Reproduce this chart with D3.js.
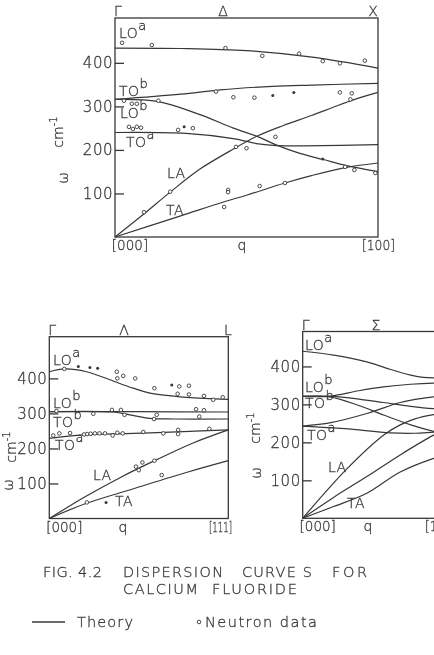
<!DOCTYPE html>
<html>
<head>
<meta charset="utf-8">
<script src="https://cdn.jsdelivr.net/npm/d3@7"></script>
<style>
  body { margin: 0; background: #fff; }
  svg { will-change: transform; }
  svg text { font-family: "DejaVu Sans", sans-serif; font-weight: 200; fill: #383838; stroke: #383838; stroke-width: 0.3; }
</style>
</head>
<body>
<script>
const width = 434;
const height = 655;
const ink = '#383838';

// Δ direction, [000] -> [100]  (q fraction, ω in cm-1)
const deltaLOa = [[0, 434], [0.25, 433], [0.5, 428], [0.75, 413], [1, 388]];
const deltaTOb = [[0, 316], [0.25, 328], [0.4, 338], [0.6, 346], [0.75, 349], [1, 353]];
const deltaLOb = [[0, 316], [0.165, 311], [0.323, 281], [0.45, 250], [0.545, 230], [0.615, 211], [0.703, 192], [0.792, 178], [0.881, 164], [1, 150]];
const deltaTOa = [[0, 240], [0.27, 238], [0.45, 226], [0.545, 214], [0.615, 210], [1, 212]];
const deltaLA = [[0, 0], [0.112, 54], [0.21, 103], [0.323, 156], [0.45, 202], [0.545, 233], [0.64, 256], [0.747, 279], [0.83, 298], [0.906, 315], [1, 332]];
const deltaTA = [[0, 0], [0.247, 48], [0.415, 81], [0.5, 96], [0.646, 124], [0.747, 141], [0.881, 160], [1, 170]];
const deltaOpen = [
  [0.027, 446], [0.14, 441], [0.42, 434], [0.56, 416], [0.7, 421], [0.79, 404], [0.855, 399], [0.95, 405],
  [0.034, 313], [0.165, 313], [0.384, 334], [0.45, 321], [0.53, 320], [0.855, 332], [0.9, 330], [0.895, 316],
  [0.064, 306], [0.083, 306],
  [0.053, 253], [0.068, 248], [0.083, 253], [0.099, 251], [0.24, 246], [0.296, 250],
  [0.61, 230], [0.46, 207], [0.5, 204],
  [0.875, 161], [0.91, 154], [0.99, 147],
  [0.11, 57], [0.21, 104],
  [0.43, 108], [0.43, 103], [0.415, 69], [0.55, 117], [0.646, 124]
];
const deltaFilled = [[0.6, 325], [0.68, 332], [0.79, 179], [0.263, 253]];

// Λ direction, [000] -> [111]
const lambdaLOa = [[0, 419], [0.087, 427], [0.208, 419], [0.338, 396], [0.469, 372], [0.562, 358], [0.766, 346], [1, 340]];
const lambdaLOb = [[0, 305], [0.5, 305], [1, 304]];
const lambdaTOb = [[0, 305], [0.357, 304], [0.45, 296], [0.562, 286], [0.7, 284], [1, 284]];
const lambdaTOa = [[0, 229], [0.19, 239], [0.47, 243], [0.75, 248], [1, 253]];
const lambdaLA = [[0, 0], [0.2, 62], [0.4, 118], [0.6, 168], [0.8, 215], [1, 253]];
const lambdaTA = [[0, 0], [0.2, 42], [0.47, 85], [0.77, 132], [1, 165]];
const lambdaOpen = [
  [0.084, 427], [0.377, 419], [0.38, 400], [0.413, 407], [0.48, 400], [0.587, 372], [0.726, 377], [0.78, 379],
  [0.717, 356], [0.78, 354], [0.864, 350], [0.916, 339], [0.969, 346],
  [0.04, 307], [0.246, 299], [0.35, 310], [0.4, 310], [0.42, 296], [0.585, 284], [0.6, 296], [0.82, 312], [0.864, 309], [0.838, 291],
  [0.022, 237], [0.056, 243], [0.116, 244], [0.194, 240], [0.212, 241], [0.231, 242], [0.255, 243], [0.28, 243], [0.311, 243],
  [0.354, 237], [0.38, 245], [0.41, 243], [0.525, 247], [0.637, 243], [0.72, 253], [0.72, 241], [0.894, 256],
  [0.484, 148], [0.5, 138], [0.52, 160], [0.587, 165], [0.628, 124],
  [0.21, 46]
];
const lambdaFilled = [[0.162, 434], [0.227, 431], [0.27, 429], [0.684, 381], [0.317, 46]];

// Σ direction, [000] -> [110] (theory only)
const sigmaLOa = [[0, 440], [0.22, 430], [0.457, 412], [0.6, 395], [0.77, 377], [0.86, 371], [1, 370]];
const sigmaLOb = [[0, 321], [0.2, 322], [0.4, 336], [0.576, 346], [0.77, 353], [0.933, 356], [1, 356]];
const sigmaTOb = [[0, 321], [0.2, 321], [0.4, 314], [0.576, 305], [0.77, 295], [0.933, 289], [1, 288]];
const sigmaTOb2 = [[0, 321], [0.2, 319], [0.4, 297], [0.576, 272], [0.77, 246], [0.933, 229], [1, 224]];
const sigmaTOa = [[0, 243], [0.2, 252], [0.457, 276], [0.695, 305], [0.85, 316], [0.933, 320], [1, 322]];
const sigmaTOa2 = [[0, 243], [0.3, 236], [0.626, 225], [0.8, 224], [0.933, 227], [1, 228]];
const sigmaLA = [[0, 0], [0.32, 132], [0.58, 220], [0.695, 246], [0.8, 262], [0.933, 273], [1, 276]];
const sigmaLA2 = [[0, 0], [0.22, 55], [0.457, 110], [0.695, 167], [0.933, 219], [1, 230]];
const sigmaTA = [[0, 0], [0.22, 31], [0.457, 66], [0.695, 122], [0.933, 158], [1, 165]];

const yTicks = [100, 200, 300, 400];

const svg = d3.select('body').append('svg').attr('width', width).attr('height', height);

function drawPanel(p) {
  const x = d3.scaleLinear().domain([0, 1]).range([p.x0, p.x1]);
  const y = d3.scaleLinear().domain([0, p.yMax]).range([p.y1, p.y0]);
  const g = svg.append('g');

  g.append('rect')
    .attr('x', p.x0).attr('y', p.y0)
    .attr('width', p.x1 - p.x0).attr('height', p.y1 - p.y0)
    .attr('fill', 'none').attr('stroke', ink).attr('stroke-width', 1.3);

  const axis = g.append('g')
    .attr('transform', `translate(${p.x0},0)`)
    .call(d3.axisLeft(y).tickValues(yTicks).tickSizeInner(-9).tickSizeOuter(0).tickPadding(2).tickFormat(d3.format('d')));
  axis.select('.domain').remove();
  axis.selectAll('line').attr('stroke', ink).attr('stroke-width', 1.3);
  axis.selectAll('text').attr('font-size', 15).attr('letter-spacing', 0.5).attr('fill', ink);

  const line = d3.line().x(d => x(d[0])).y(d => y(d[1])).curve(d3.curveCatmullRom.alpha(0.5));
  g.selectAll('path.curve')
    .data(p.curves)
    .enter()
    .append('path')
    .attr('class', 'curve')
    .attr('d', line)
    .attr('fill', 'none')
    .attr('stroke', ink)
    .attr('stroke-width', 1.2);

  g.selectAll('circle.open')
    .data(p.open || [])
    .enter()
    .append('circle')
    .attr('class', 'open')
    .attr('cx', d => x(d[0])).attr('cy', d => y(d[1]))
    .attr('r', 1.8)
    .attr('fill', '#fff').attr('stroke', ink).attr('stroke-width', 0.9);

  g.selectAll('circle.filled')
    .data(p.filled || [])
    .enter()
    .append('circle')
    .attr('class', 'filled')
    .attr('cx', d => x(d[0])).attr('cy', d => y(d[1]))
    .attr('r', 1.5)
    .attr('fill', ink);

  // symmetry points along the top
  g.append('text').attr('x', p.x0 - 1).attr('y', p.y0 - 2).attr('font-size', 14).text('Γ');
  g.append('text').attr('x', p.midX).attr('y', p.y0 - 2).attr('font-size', 14).attr('text-anchor', 'middle').text(p.mid);
  g.append('text').attr('x', p.endX).attr('y', p.y0 - 2).attr('font-size', 14).attr('text-anchor', 'middle').text(p.end);

  // q axis
  g.append('text').attr('x', p.x0 + 15).attr('y', p.y1 + 13).attr('font-size', 13.5).attr('text-anchor', 'middle').text('[000]');
  g.append('text').attr('x', p.qX).attr('y', p.y1 + 13).attr('font-size', 14).attr('text-anchor', 'middle').text('q');
  g.append('text').attr('x', p.zbX).attr('y', p.y1 + 13).attr('font-size', 13.5).attr('textLength', p.zbLen).attr('lengthAdjust', 'spacingAndGlyphs').text(p.zb);

  // ω (cm-1) label
  const cm = g.append('text')
    .attr('transform', `translate(${p.cmX},${p.cmY}) rotate(-90)`)
    .attr('font-size', 14).attr('text-anchor', 'middle');
  cm.append('tspan').text('cm');
  cm.append('tspan').attr('dy', -6).attr('font-size', 10).text('-1');
  g.append('text')
    .attr('transform', `translate(${p.wX},${p.wY}) rotate(-90)`)
    .attr('font-size', 14).attr('text-anchor', 'middle').text('ω');

  // branch labels
  p.labels.forEach(l => {
    const t = g.append('text').attr('x', l[1]).attr('y', l[2]).attr('font-size', 14).attr('letter-spacing', 0.5);
    t.append('tspan').text(l[0]);
    if (l[3]) t.append('tspan').attr('dy', -8).attr('font-size', 13).text(l[3]);
  });
}

drawPanel({
  x0: 115, x1: 378, y0: 18, y1: 237, yMax: 503,
  curves: [deltaLOa, deltaTOb, deltaLOb, deltaTOa, deltaLA, deltaTA],
  open: deltaOpen, filled: deltaFilled,
  mid: 'Δ', midX: 223, end: 'X', endX: 373,
  qX: 242, zb: '[100]', zbX: 362, zbLen: 33,
  cmX: 63, cmY: 132, wX: 68, wY: 178,
  labels: [['LO', 119, 38, 'a'], ['TO', 119, 96, 'b'], ['LO', 120, 118, 'b'], ['TO', 126, 147, 'a'], ['LA', 167, 178], ['TA', 166, 215]]
});

drawPanel({
  x0: 49.3, x1: 228.3, y0: 336.7, y1: 518.5, yMax: 519,
  curves: [lambdaLOa, lambdaLOb, lambdaTOb, lambdaTOa, lambdaLA, lambdaTA],
  open: lambdaOpen, filled: lambdaFilled,
  mid: 'Λ', midX: 124, end: 'L', endX: 228,
  qX: 123, zb: '[111]', zbX: 209, zbLen: 23,
  cmX: 15.5, cmY: 447, wX: 13, wY: 485,
  labels: [['LO', 53, 365, 'a'], ['LO', 53, 408, 'b'], ['TO', 53, 427, 'b'], ['TO', 55, 450, 'a'], ['LA', 93, 480], ['TA', 115, 506]]
});

drawPanel({
  x0: 302.7, x1: 443, y0: 331.5, y1: 518.3, yMax: 492,
  curves: [sigmaLOa, sigmaLOb, sigmaTOb, sigmaTOb2, sigmaTOa, sigmaTOa2, sigmaLA, sigmaLA2, sigmaTA],
  mid: 'Σ', midX: 376, end: '', endX: 443,
  qX: 368, zb: '[110]', zbX: 425, zbLen: 33,
  cmX: 260, cmY: 428, wX: 261, wY: 473,
  labels: [['LO', 305, 350, 'a'], ['LO', 305, 392, 'b'], ['TO', 305, 408, 'b'], ['TO', 307, 440, 'a'], ['LA', 328, 472], ['TA', 347, 508]]
});

// caption
const caption = [
  ['FIG. 4.2', 43, 577, 59], ['DISPERSION', 123, 577, 100], ['CURVE S', 242, 577, 70], ['FOR', 332, 577, 35],
  ['CALCIUM', 123, 594, 75], ['FLUORIDE', 212, 594, 85]
];
svg.selectAll('text.caption')
  .data(caption)
  .enter()
  .append('text')
  .attr('class', 'caption')
  .attr('x', d => d[1]).attr('y', d => d[2])
  .attr('font-size', 14.5)
  .attr('textLength', d => d[3]).attr('lengthAdjust', 'spacing')
  .text(d => d[0]);

// legend
svg.append('line').attr('x1', 32).attr('x2', 65).attr('y1', 622).attr('y2', 622).attr('stroke', ink).attr('stroke-width', 1.3);
svg.append('text').attr('x', 77).attr('y', 627).attr('font-size', 14.5).attr('font-weight', 400).attr('stroke-width', 0).attr('textLength', 56).text('Theory');
svg.append('circle').attr('cx', 199).attr('cy', 622).attr('r', 1.8).attr('fill', '#fff').attr('stroke', ink).attr('stroke-width', 0.9);
svg.append('text').attr('x', 205).attr('y', 627).attr('font-size', 14.5).attr('font-weight', 400).attr('stroke-width', 0).attr('textLength', 112).text('Neutron data');
</script>
</body>
</html>
